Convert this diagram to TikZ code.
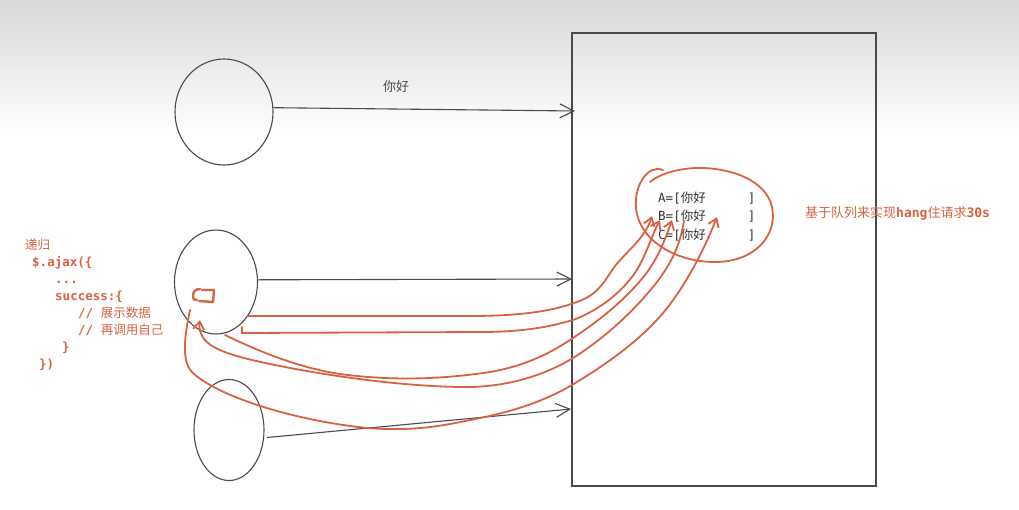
\documentclass[tikz,border=0pt]{standalone}
\usepackage{fontspec}
\newfontfamily\cjk{Noto Sans CJK SC}
\newfontfamily\mono{DejaVu Sans Mono}
\usetikzlibrary{shapes.geometric,arrows.meta}
\definecolor{rd}{HTML}{D96242}
\definecolor{ln}{HTML}{4A4A4A}
\definecolor{qcol}{HTML}{333333}
\definecolor{bgtop}{HTML}{D8D8D8}
\newcommand\codefont{\mono\bfseries\fontsize{12.5}{15}\selectfont}
\newcommand\qfont{\mono\fontsize{12.5}{15}\selectfont}
\newcommand\notefont{\mono\bfseries\fontsize{13}{15}\selectfont}
\newcommand\cjkm{\cjk\mdseries}
\begin{document}
\begin{tikzpicture}[x=1pt,y=-1pt,
  circ/.style={ellipse, draw=ln, line width=1.1pt, inner sep=0pt},
  gline/.style={draw=ln, line width=1.1pt, -{Straight Barb[length=14pt,width=14pt]}},
  rline/.style={draw=rd, line width=1.8pt, line cap=round, line join=round},
  rarrow/.style={rline, -{Straight Barb[length=8pt,width=11pt]}},
  codeline/.style={anchor=base west, inner sep=0pt, text=rd, font=\codefont},
  qtext/.style={anchor=base west, inner sep=0pt, text=qcol, font=\qfont},
]
\useasboundingbox (0,0) rectangle (1019,509);
\fill[white] (0,0) rectangle (1019,509);
\shade[top color=bgtop, bottom color=white] (0,0) rectangle (1019,135);

% clients
\node[circ, minimum width=98pt, minimum height=106pt] (c1) at (224,112) {};
\node[circ, minimum width=83pt, minimum height=104pt] (c2) at (216,282) {};
\node[circ, minimum width=70pt, minimum height=101pt] (c3) at (229,430) {};

% server box
\node[draw=ln, line width=1.1pt, minimum width=304pt, minimum height=453pt, inner sep=0pt] (box) at (724,259.5) {};

% gray arrows
\coordinate (t1) at (575,111);
\coordinate (t2) at (572,279);
\coordinate (t3) at (571,409);
\draw[gline] (c1.5) -- (t1);
\draw[gline] (c2.3) -- (t2);
\draw[gline] ([xshift=3pt]c3.-12) -- (t3);
\node[inner sep=0pt, text=ln, font=\cjk\fontsize{13}{15}\selectfont] (hello) at (396,87) {你好};

% queue text
\node[qtext] (qa) at (658,202) {A=[{\cjk 你好}\hspace{42pt}]};
\node[qtext] (qb) at (658,220) {B=[{\cjk 你好}\hspace{42pt}]};
\node[qtext] (qc) at (658,239) {C=[{\cjk 你好}\hspace{42pt}]};

% red hand-drawn loop
\draw[rline] (663,170) .. controls (648,164) and (634,185) .. (636,208)
  .. controls (639,240) and (675,262) .. (715,262)
  .. controls (755,262) and (778,235) .. (772,207)
  .. controls (766,180) and (730,167) .. (695,168)
  .. controls (675,169) and (658,175) .. (650,182);

\node[anchor=base west, inner sep=0pt, text=rd, font=\notefont] (note) at (805,217)
  {{\cjkm 基于队列来实现}hang{\cjkm 住请求}30s};

% code
\node[codeline] (l1) at (25,249) {{\cjkm 递归}};
\node[codeline] (l2) at (32,266) {\$.ajax(\{};
\node[codeline] (l3) at (55,283) {...};
\node[codeline] (l4) at (55,300) {success:\{};
\node[codeline] (l5) at (78,317) {// {\cjkm 展示数据}};
\node[codeline] (l6) at (78,334) {// {\cjkm 再调用自己}};
\node[codeline] (l7) at (62,351) {\}};
\node[codeline] (l8) at (39,368) {\})};

% small bracket in client 2
\draw[rd, line width=2.4pt, line cap=round, line join=round]
  (200,289) .. controls (195,289) and (193,292) .. (193,296) .. controls (193,300) and (195,300) .. (197,300);
\draw[rd, line width=2.4pt, line cap=round, line join=round]
  (202,290) -- (214,290) -- (213,302) -- (199,301);

% red curves
\draw[rarrow] (248,316) -- (470,316) .. controls (530,316) and (560,309) .. (582,300)
  .. controls (600,292) and (605,280) .. (615,266)
  .. controls (628,250) and (645,238) .. (652,216);
\draw[rarrow] (242,327) -- (242,333) -- (480,332) .. controls (530,332) and (555,325) .. (573,320)
  .. controls (600,310) and (625,290) .. (638,268)
  .. controls (648,250) and (652,235) .. (660,220);
\draw[rarrow] (225,335) .. controls (260,352) and (300,368) .. (340,374)
  .. controls (400,382) and (450,378) .. (490,372)
  .. controls (530,365) and (555,350) .. (573,338)
  .. controls (600,320) and (625,300) .. (645,275)
  .. controls (658,258) and (665,240) .. (672,220);
\draw[rarrow] (684,221) .. controls (680,245) and (672,262) .. (657,282)
  .. controls (635,310) and (605,338) .. (573,358)
  .. controls (540,378) and (500,388) .. (460,387)
  .. controls (400,386) and (330,376) .. (280,366)
  .. controls (245,359) and (215,352) .. (205,340)
  .. controls (199,333) and (199,327) .. (200,320);
\draw[rarrow] (190,310) .. controls (186,330) and (180,360) .. (192,372)
  .. controls (215,395) and (290,420) .. (367,428)
  .. controls (420,432) and (450,424) .. (480,418)
  .. controls (520,410) and (550,398) .. (572,385)
  .. controls (610,362) and (640,340) .. (663,313)
  .. controls (680,293) and (700,260) .. (717,217);
\end{tikzpicture}
\end{document}
